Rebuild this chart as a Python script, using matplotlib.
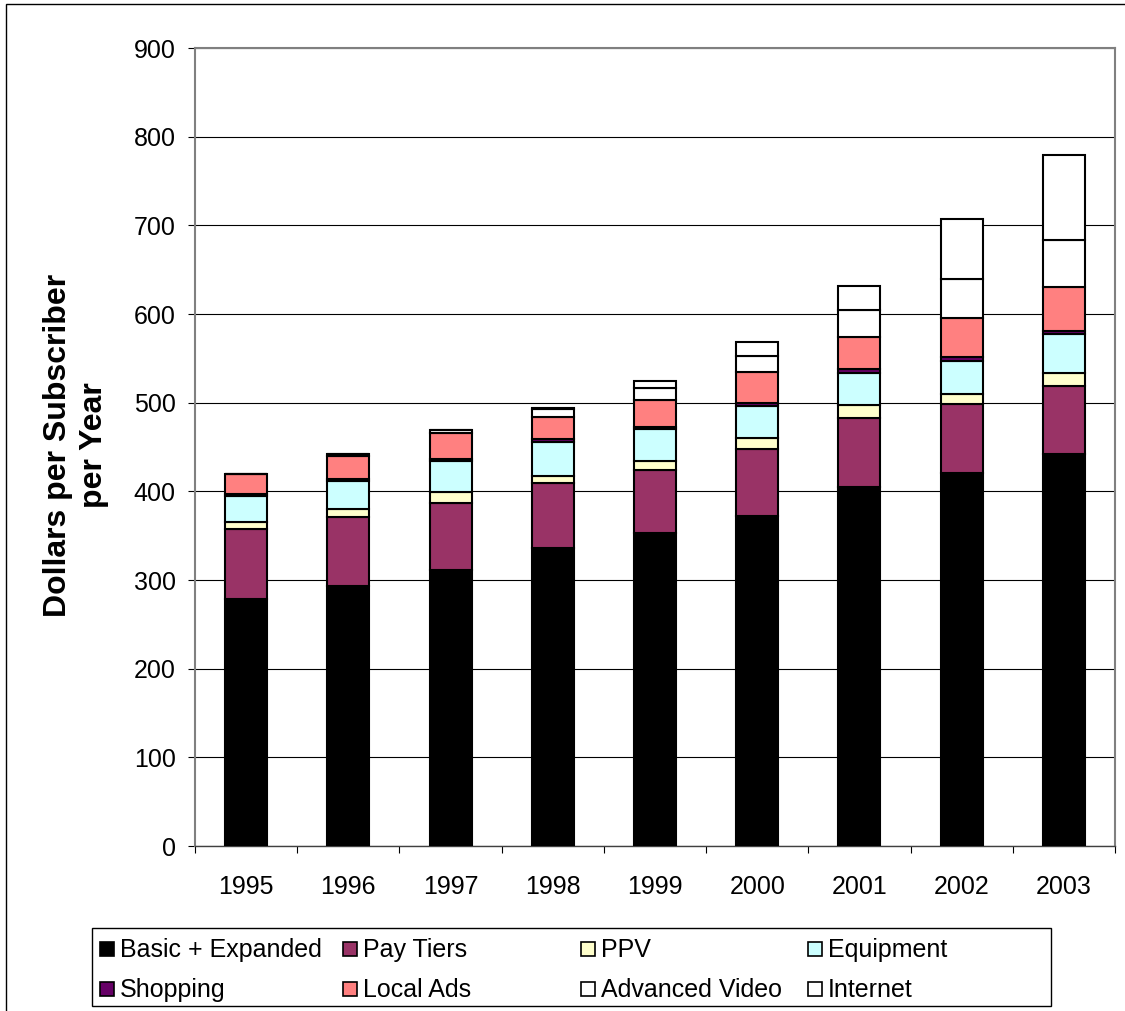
import matplotlib
matplotlib.use("Agg")
import matplotlib.pyplot as plt
import numpy as np
from matplotlib.patches import Rectangle
from matplotlib.ticker import FixedLocator, MultipleLocator

plt.rcParams["font.family"] = ["Liberation Sans", "DejaVu Sans"]

years = ["1995", "1996", "1997", "1998", "1999", "2000", "2001", "2002", "2003"]

# revenue per subscriber, stacked bottom to top
basic = [279, 293, 311, 336, 353, 372, 405, 421, 442]
pay_tiers = [78, 78, 76, 73, 71, 76, 78, 77, 77]
ppv = [8, 9, 12, 8, 10, 12, 14, 12, 14]
equipment = [30, 32, 35, 39, 36, 36, 37, 37, 44]
shopping = [2, 2, 3, 3, 3, 4, 4, 4, 4]
local_ads = [22, 26, 29, 25, 30, 35, 36, 45, 50]
advanced_video = [0, 2, 3, 9, 13, 18, 30, 43, 52]
internet = [0, 0, 0, 1, 8, 15, 28, 68, 96]

series = [
    ("Basic + Expanded", basic, "#000000"),
    ("Pay Tiers", pay_tiers, "#993366"),
    ("PPV", ppv, "#FFFFCC"),
    ("Equipment", equipment, "#CCFFFF"),
    ("Shopping", shopping, "#660066"),
    ("Local Ads", local_ads, "#FF8080"),
    ("Advanced Video", advanced_video, "#FFFFFF"),
    ("Internet", internet, "#FFFFFF"),
]

W, H = 1125, 1011
fig = plt.figure(figsize=(W / 100, H / 100), dpi=100)
ax = fig.add_axes([195 / W, 1 - 846 / H, (1115 - 195) / W, (846 - 48) / H])

x = np.arange(len(years))
bottom = np.zeros(len(years))
for name, vals, color in series:
    vals = np.array(vals, dtype=float)
    ax.bar(x, vals, width=0.41, bottom=bottom, color=color,
           edgecolor="black", linewidth=1.5, zorder=3)
    bottom += vals

ax.set_xlim(-0.5, len(years) - 0.5)
ax.set_ylim(0, 900)
ax.yaxis.set_major_locator(MultipleLocator(100))
ax.grid(axis="y", color="black", linewidth=0.8, zorder=0)
ax.set_axisbelow(True)

# year labels at bar centres, tick marks between categories
ax.set_xticks(x)
ax.set_xticklabels(years, fontsize=18)
ax.xaxis.set_minor_locator(FixedLocator(np.arange(-0.5, len(years), 1.0)))
ax.tick_params(axis="x", which="major", length=0, pad=21)
ax.tick_params(axis="x", which="minor", length=5, width=0.8, direction="out")
ax.tick_params(axis="y", labelsize=18, length=5, width=0.8, direction="out", pad=9)

for side in ("left", "top", "right"):
    ax.spines[side].set_color("#808080")
    ax.spines[side].set_linewidth(1.5)
ax.spines["bottom"].set_color("#404040")
ax.spines["bottom"].set_linewidth(1.0)

fig.text(76 / W, 1 - 445 / H, "Dollars per Subscriber\nper Year", rotation=90,
         ha="center", va="center", multialignment="center",
         fontsize=23, fontweight="bold", linespacing=1.25)

# legend laid out in equal-width columns
fig.add_artist(Rectangle((92 / W, 1 - 1006 / H), (1051 - 92) / W, (1006 - 928) / H,
                         transform=fig.transFigure, facecolor="white",
                         edgecolor="black", linewidth=1.0))
col_x = [100, 343, 581, 808]
row_y = [949, 989]
for k, (name, _, color) in enumerate(series):
    cx = col_x[k % 4]
    cy = row_y[k // 4]
    fig.add_artist(Rectangle((cx / W, 1 - (cy + 7) / H), 14 / W, 14 / H,
                             transform=fig.transFigure, facecolor=color,
                             edgecolor="black", linewidth=1.2))
    fig.text((cx + 20) / W, 1 - (cy + 1) / H, name, fontsize=18,
             ha="left", va="center")

# outer frame
fig.add_artist(Rectangle((6 / W, -0.05), 1.2, 1.05 - 4 / H,
                         transform=fig.transFigure, facecolor="none",
                         edgecolor="black", linewidth=1.0))

fig.savefig("out.png", dpi=100)
